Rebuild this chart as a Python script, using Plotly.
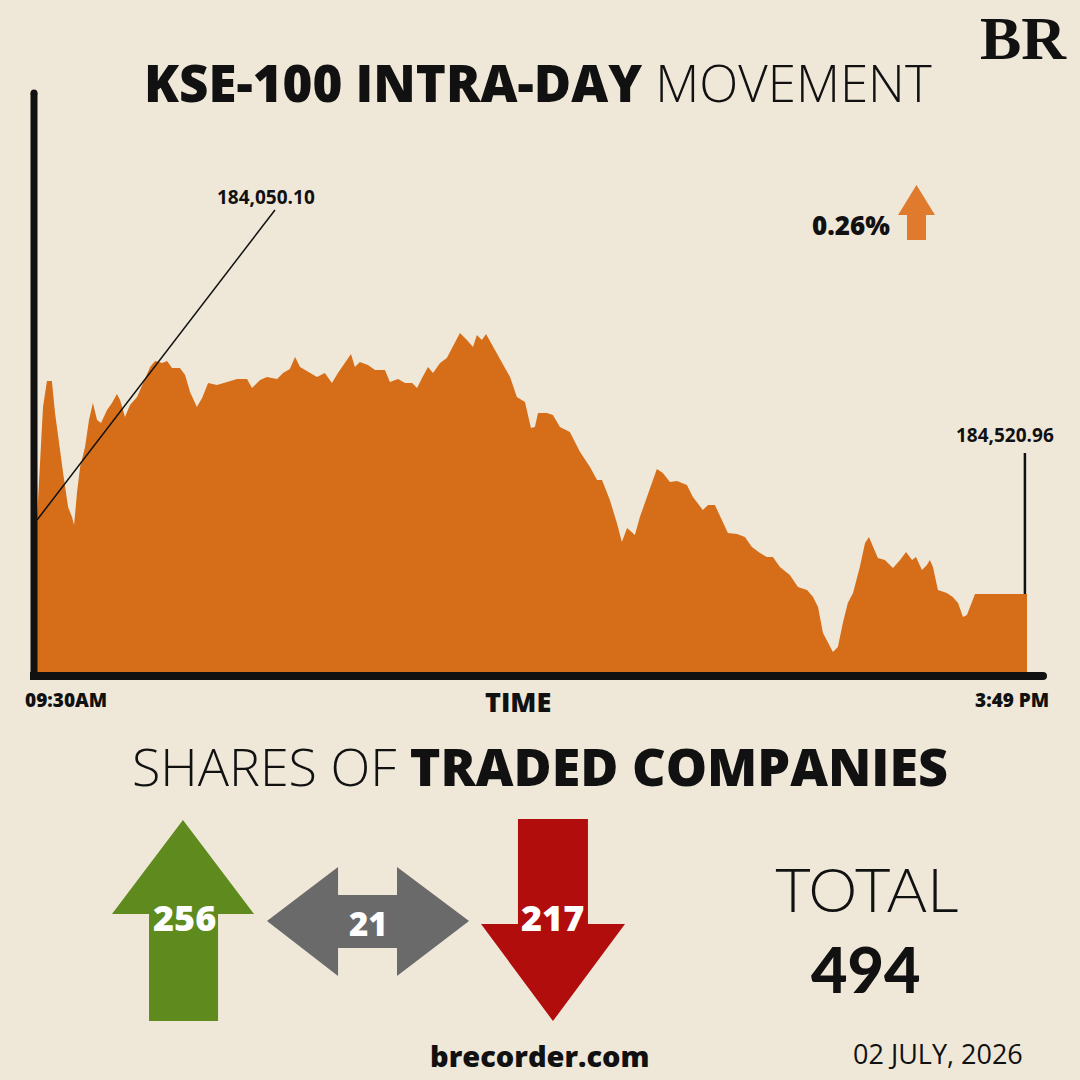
import plotly.graph_objects as go

# KSE-100 intraday, minutes after 09:30 open and index level
minutes = [0.0, 2.3, 3.8, 5.7, 6.9, 8.8, 10.0, 11.9, 13.4, 14.2, 15.3, 16.5, 18.4, 19.9,
           21.4, 23.0, 24.5, 26.8, 28.7, 30.6, 31.8, 33.7, 35.6, 38.3, 40.6, 43.3, 45.2,
           47.9, 49.8, 51.7, 54.7, 56.7, 58.6, 61.2, 63.2, 65.5, 68.9, 72.7, 76.6, 80.4,
           82.3, 85.4, 88.0, 91.9, 94.2, 96.8, 98.8, 100.7, 103.7, 107.2, 110.2, 112.9,
           115.2, 117.9, 120.2, 121.7, 123.6, 126.7, 129.4, 133.2, 135.1, 138.2, 140.9,
           143.6, 145.5, 147.4, 149.7, 151.6, 154.3, 156.9, 159.2, 161.9, 164.6, 166.9,
           168.4, 170.3, 171.9, 174.6, 178.0, 181.1, 183.7, 186.8, 189.1, 190.6, 191.8,
           195.2, 197.5, 200.2, 204.0, 207.9, 211.7, 214.4, 216.3, 219.3, 222.0, 223.9,
           225.9, 228.9, 230.8, 233.5, 237.3, 239.6, 242.3, 245.0, 248.8, 251.1, 254.9,
           256.9, 259.5, 262.2, 264.5, 268.0, 271.0, 273.7, 276.8, 279.4, 281.7, 284.4,
           288.2, 291.3, 294.8, 297.1, 299.0, 300.9, 302.8, 304.7, 306.6, 308.5, 310.4,
           312.4, 315.0, 317.0, 318.5, 320.0, 321.9, 324.6, 327.7, 330.4, 332.7, 335.0,
           336.5, 338.8, 340.7, 341.8, 343.0, 344.9, 348.3, 350.6, 352.6, 354.5, 356.0,
           359.1, 379.0]
index = [184050, 184502, 184606, 184606, 184478, 184318, 184238, 184102, 184062, 184030,
         184158, 184262, 184342, 184450, 184518, 184450, 184438, 184490, 184518, 184554,
         184530, 184462, 184510, 184542, 184598, 184662, 184686, 184678, 184686, 184658,
         184658, 184630, 184562, 184502, 184538, 184598, 184590, 184602, 184614, 184614,
         184578, 184610, 184622, 184614, 184638, 184654, 184702, 184662, 184642, 184622,
         184638, 184598, 184638, 184678, 184714, 184662, 184682, 184670, 184650, 184650,
         184602, 184614, 184598, 184598, 184578, 184618, 184662, 184638, 184678, 184698,
         184742, 184798, 184770, 184742, 184790, 184770, 184794, 184742, 184678, 184622,
         184542, 184522, 184418, 184422, 184478, 184478, 184470, 184422, 184402, 184322,
         184262, 184210, 184210, 184130, 184038, 183962, 184018, 183990, 184062, 184142,
         184254, 184238, 184202, 184206, 184190, 184142, 184090, 184110, 184110, 184050,
         183998, 183994, 183982, 183942, 183918, 183902, 183902, 183862, 183830, 183782,
         183770, 183742, 183702, 183598, 183558, 183522, 183542, 183638, 183718, 183758,
         183862, 183958, 183982, 183942, 183898, 183890, 183858, 183890, 183922, 183890,
         183902, 183850, 183870, 183890, 183862, 183770, 183758, 183742, 183718, 183662,
         183670, 183754, 183754]

open_label = "184,050.10"
close_label = "184,520.96"
change_label = "0.26%"
start_time, end_time = "09:30AM", "3:49 PM"

advancers, unchanged, decliners = 256, 21, 217
total = advancers + unchanged + decliners
date_label = "02 JULY, 2026"

BG = "#EFE8D9"
ORANGE = "#D56D19"
INK = "#111111"
SANS = "Open Sans"


def px(x):
    return x / 1080


def py(y):
    return 1 - y / 1080


def poly(points):
    return "M " + " L ".join(f"{px(x):.4f},{py(y):.4f}" for x, y in points) + " Z"


fig = go.Figure()
fig.add_trace(go.Scatter(x=minutes, y=index, mode="lines", fill="tozeroy",
                         line=dict(width=0, color=ORANGE), fillcolor=ORANGE,
                         hoverinfo="skip", showlegend=False))

shapes = [
    # axes
    dict(type="line", xref="paper", yref="paper", x0=px(34), y0=py(93), x1=px(34), y1=py(680),
         line=dict(color=INK, width=7)),
    dict(type="circle", xref="paper", yref="paper", x0=px(30.5), y0=py(89.5), x1=px(37.5), y1=py(96.5),
         fillcolor=INK, line=dict(width=0)),
    dict(type="line", xref="paper", yref="paper", x0=px(30), y0=py(676), x1=px(1043), y1=py(676),
         line=dict(color=INK, width=8)),
    dict(type="circle", xref="paper", yref="paper", x0=px(1039), y0=py(672), x1=px(1047), y1=py(680),
         fillcolor=INK, line=dict(width=0)),
    # leader lines to open / close
    dict(type="line", xref="x", yref="y", x0=minutes[0], y0=index[0], x1=91.1, y1=185290,
         line=dict(color=INK, width=1.5)),
    dict(type="line", xref="x", yref="y", x0=minutes[-1] - 0.8, y0=index[-1], x1=minutes[-1] - 0.8,
         y1=184318, line=dict(color=INK, width=2.5)),
    # small change arrow
    dict(type="path", xref="paper", yref="paper", line=dict(width=0), fillcolor="#E07B2D",
         path=poly([(907, 240), (907, 215), (898, 215), (916.5, 185), (935, 215), (926, 215), (926, 240)])),
    # advancers / unchanged / decliners arrows
    dict(type="path", xref="paper", yref="paper", line=dict(width=0), fillcolor="#5F8A1E",
         path=poly([(149, 1021), (149, 914), (112, 914), (183, 820), (254, 914), (218, 914), (218, 1021)])),
    dict(type="path", xref="paper", yref="paper", line=dict(width=0), fillcolor="#6A6A6A",
         path=poly([(267, 921), (338, 867), (338, 895), (397, 895), (397, 867), (469, 921),
                    (397, 976), (397, 948), (338, 948), (338, 976)])),
    dict(type="path", xref="paper", yref="paper", line=dict(width=0), fillcolor="#B20D0D",
         path=poly([(518, 819), (588, 819), (588, 924), (625, 924), (553, 1021), (481, 924), (518, 924)])),
]


def txt(x, y, text, size, color=INK, family=SANS, weight="bold", yanchor="middle"):
    return dict(x=px(x), y=py(y), xref="paper", yref="paper", text=text, showarrow=False,
                xanchor="center", yanchor=yanchor,
                font=dict(family=family, size=size, color=color, weight=weight))


annotations = [
    txt(1023, 38, "BR", 62, family="Liberation Serif"),
    txt(538, 82, '<span style="font-weight:800">KSE-100 INTRA-DAY</span> '
                 '<span style="font-weight:300">MOVEMENT</span>', 51, weight="normal"),
    txt(266, 197, open_label, 19, weight=700),
    txt(1005, 435, close_label, 19, weight=700),
    txt(851, 225, change_label, 26, weight=800),
    txt(66, 700, start_time, 19, weight=800),
    txt(518, 701, "TIME", 27, weight=800),
    txt(1012, 700, end_time, 19, weight=800),
    txt(540, 765, '<span style="font-weight:300">SHARES OF</span> '
                  '<span style="font-weight:800">TRADED COMPANIES</span>', 52, weight="normal"),
    txt(184, 917, str(advancers), 36, color="white", weight=800),
    txt(368, 923, str(unchanged), 33, color="white", weight=800),
    txt(552, 917, str(decliners), 36, color="white", weight=800),
    txt(866, 927, "TOTAL", 62, family="Lato", weight=300, yanchor="bottom"),
    txt(866, 929, str(total), 63, family="Lato", weight=900, yanchor="top"),
    txt(540, 1055, "brecorder.com", 29, weight=800),
    txt(938, 1053, date_label, 27, weight="normal"),
]

fig.update_layout(
    width=1080, height=1080, margin=dict(l=0, r=0, t=0, b=0),
    paper_bgcolor=BG, plot_bgcolor="rgba(0,0,0,0)",
    xaxis=dict(domain=[px(37), px(1027)], range=[0, 379], visible=False, fixedrange=True),
    yaxis=dict(domain=[py(672), py(92)], range=[183442, 185762], visible=False, fixedrange=True),
    shapes=shapes, annotations=annotations, showlegend=False,
)

fig.write_html("out.html", config={"displayModeBar": False},
               post_script="document.body.style.margin='0';")
